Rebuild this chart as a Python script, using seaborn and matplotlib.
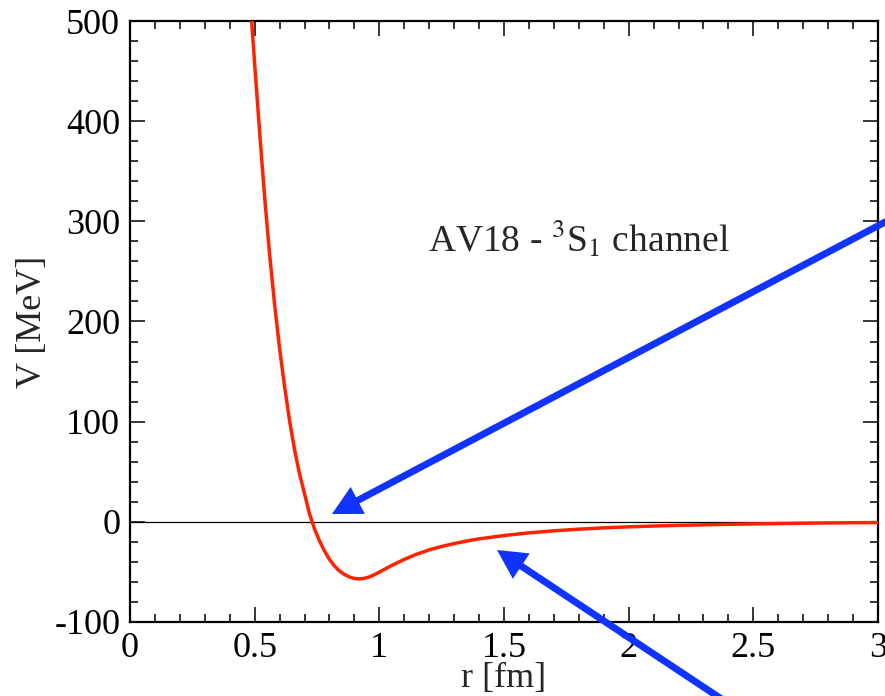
import numpy as np
import pandas as pd
import matplotlib
matplotlib.use("Agg")
import matplotlib.pyplot as plt
from matplotlib.ticker import MultipleLocator, FixedLocator
import seaborn as sns

# ---- data ----
r_fm = [0.47, 0.48, 0.50, 0.52, 0.54, 0.56, 0.58, 0.60, 0.62, 0.64, 0.66, 0.68,
        0.70, 0.72, 0.74, 0.76, 0.78, 0.80, 0.82, 0.84, 0.86, 0.88, 0.90, 0.92,
        0.94, 0.96, 0.98, 1.00, 1.05, 1.10, 1.15, 1.20, 1.25, 1.30, 1.35, 1.40,
        1.50, 1.60, 1.70, 1.80, 1.90, 2.00, 2.10, 2.20, 2.40, 2.60, 2.80, 3.00]
V_mev = [565, 529, 457, 389, 324, 267, 217, 173, 135, 101, 72, 48,
         28, 8, -7, -19, -29, -37.5, -44, -49, -52.5, -55, -56.6, -57,
         -56.4, -55, -52.8, -50.2, -43.5, -37.5, -32.3, -28, -24.6, -21.7, -19.2, -17,
         -13.7, -11, -9, -7.3, -6, -5, -4.2, -3.5, -2.5, -1.7, -1.1, -0.7]

x_ticks = [0, 0.5, 1, 1.5, 2, 2.5, 3]
x_ticklabels = ["0", "0.5", "1", "1.5", "2", "2.5", "3"]
y_ticks = [-100, 0, 100, 200, 300, 400, 500]
y_ticklabels = ["-100", "0", "100", "200", "300", "400", "500"]

title_text = r"AV18 - $^{3}$S$_{1}$ channel"
x_label = "r [fm]"
y_label = "V [MeV]"

# arrows: (tail, tip) in data coordinates
arrow1_tail = (3.10, 308.7)
arrow1_tip = (0.810, 7.8)
arrow2_tail = (2.407, -182.6)
arrow2_tip = (1.472, -28.1)

# ---- style ----
sns.set_style("ticks")
plt.rcParams["font.family"] = ["Liberation Serif", "DejaVu Serif"]
plt.rcParams["mathtext.fontset"] = "stix"

red = "#ff2200"
blue = "#1133ff"

fig = plt.figure(figsize=(8.85, 6.96), dpi=100)
ax = fig.add_axes([130 / 885, 1 - 622 / 696, 748 / 885, 601 / 696])

df = pd.DataFrame({"r": r_fm, "V": V_mev})
ax.axhline(0, color="black", lw=0.9, zorder=1)
sns.lineplot(data=df, x="r", y="V", ax=ax, color=red, lw=2.5, zorder=3, sort=False)

ax.set_xlim(0, 3)
ax.set_ylim(-100, 500)
ax.xaxis.set_major_locator(FixedLocator(x_ticks))
ax.set_xticklabels(x_ticklabels)
ax.yaxis.set_major_locator(FixedLocator(y_ticks))
ax.set_yticklabels(y_ticklabels)
ax.xaxis.set_minor_locator(MultipleLocator(0.1))
ax.yaxis.set_minor_locator(MultipleLocator(20))

ax.tick_params(which="both", direction="in", top=True, right=True, labelsize=26,
               colors="black")
ax.tick_params(which="major", length=11, width=1.1, pad=7)
ax.tick_params(which="minor", length=5.5, width=1.1)
for s in ax.spines.values():
    s.set_linewidth(1.6)
    s.set_color("black")

ax.set_xlabel(x_label, fontsize=26, labelpad=-2)
ax.set_ylabel(y_label, fontsize=26, labelpad=4)

ax.text(1.195, 269.4, title_text, fontsize=27, va="baseline", ha="left")

for tail, tip in [(arrow1_tail, arrow1_tip), (arrow2_tail, arrow2_tip)]:
    ax.annotate("", xy=tip, xytext=tail, xycoords="data", textcoords="data",
                annotation_clip=False,
                arrowprops=dict(width=5, headwidth=22, headlength=21,
                                color=blue, shrink=0, lw=0))

fig.savefig("out.png", dpi=100)
